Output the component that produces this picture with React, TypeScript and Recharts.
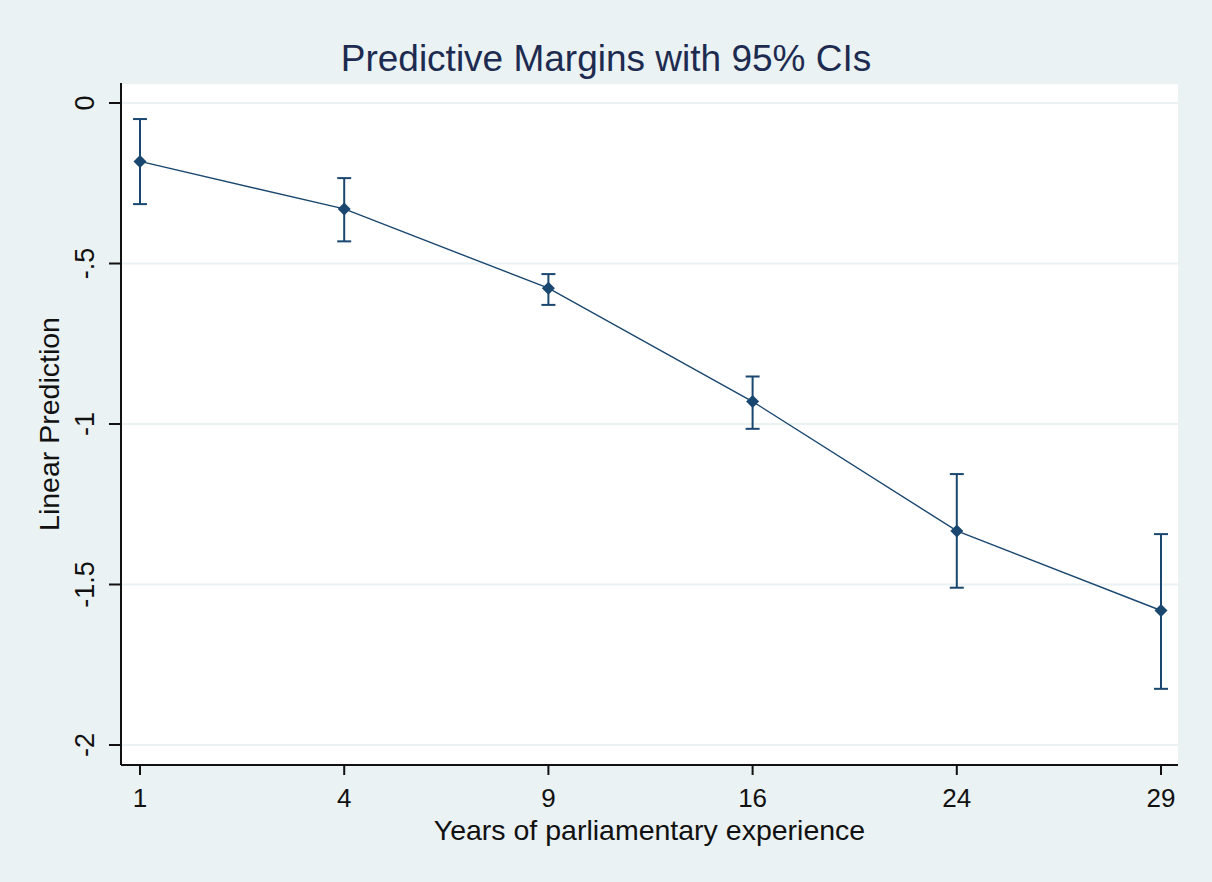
import { CartesianGrid, ComposedChart, ErrorBar, Line, XAxis, YAxis } from "recharts";

// predictive margins by years in parliament, with 95% CI bounds
const years = ["1", "4", "9", "16", "24", "29"];
const margins = [-0.182, -0.33, -0.577, -0.93, -1.333, -1.581];
const ciLow = [-0.315, -0.431, -0.629, -1.015, -1.51, -1.825];
const ciHigh = [-0.05, -0.234, -0.533, -0.852, -1.156, -1.343];

const yTicks = [0, -0.5, -1, -1.5, -2];
const yTickLabels = ["0", "-.5", "-1", "-1.5", "-2"];

const data = years.map((year, i) => ({
  year,
  margin: margins[i],
  ci: [margins[i] - ciLow[i], ciHigh[i] - margins[i]],
}));

const NAVY = "#1A476F";
const FONT = "'Liberation Sans', Arial, sans-serif";

function Diamond({ cx, cy }: any) {
  if (cx == null || cy == null) return null;
  const r = 6.5;
  return <polygon points={`${cx},${cy - r} ${cx + r},${cy} ${cx},${cy + r} ${cx - r},${cy}`} fill={NAVY} />;
}

function YTick({ x, y, payload }: any) {
  const label = yTickLabels[yTicks.indexOf(payload.value)];
  return (
    <text x={x} y={y} transform={`rotate(-90 ${x} ${y})`} textAnchor="middle" fontSize={27} fontFamily={FONT} fill="#111">
      {label}
    </text>
  );
}

function YTitle({ viewBox }: any) {
  const cy = viewBox.y + viewBox.height / 2;
  return (
    <text x={59} y={cy} transform={`rotate(-90 59 ${cy})`} textAnchor="middle" fontSize={28.5} fontFamily={FONT} fill="#111">
      Linear Prediction
    </text>
  );
}

function XTitle({ viewBox }: any) {
  return (
    <text x={viewBox.x + viewBox.width / 2} y={840} textAnchor="middle" fontSize={28.5} fontFamily={FONT} fill="#111">
      Years of parliamentary experience
    </text>
  );
}

export default function App() {
  return (
    <div style={{ position: "absolute", left: 0, top: 0, width: 1212, height: 882, background: "#EAF2F3" }}>
      <div
        style={{
          position: "absolute",
          left: 0,
          top: 40,
          width: 1212,
          textAlign: "center",
          fontFamily: FONT,
          fontSize: 37,
          lineHeight: "37px",
          color: "#1E2B50",
        }}
      >
        Predictive Margins with 95% CIs
      </div>
      <ComposedChart width={1212} height={882} data={data} margin={{ top: 83, right: 34, bottom: 37, left: 21 }}>
        <CartesianGrid vertical={false} stroke="#EAF2F3" strokeWidth={2} fill="#ffffff" />
        <XAxis
          dataKey="year"
          type="category"
          scale="point"
          padding={{ left: 19, right: 17 }}
          height={80}
          tickSize={10}
          tickMargin={14}
          stroke="#111"
          strokeWidth={2}
          tick={{ fontSize: 26, fontFamily: FONT, fill: "#111" }}
          label={<XTitle />}
        />
        <YAxis
          type="number"
          domain={[-2, 0]}
          ticks={yTicks}
          interval={0}
          padding={{ top: 20, bottom: 20 }}
          width={100}
          tickSize={12}
          tickMargin={15}
          stroke="#111"
          strokeWidth={2}
          tick={<YTick />}
          label={<YTitle />}
        />
        <Line
          type="linear"
          dataKey="margin"
          stroke={NAVY}
          strokeWidth={1.4}
          dot={<Diamond />}
          activeDot={false}
          isAnimationActive={false}
        >
          <ErrorBar dataKey="ci" direction="y" width={7} stroke={NAVY} strokeWidth={2} isAnimationActive={false} />
        </Line>
      </ComposedChart>
    </div>
  );
}
